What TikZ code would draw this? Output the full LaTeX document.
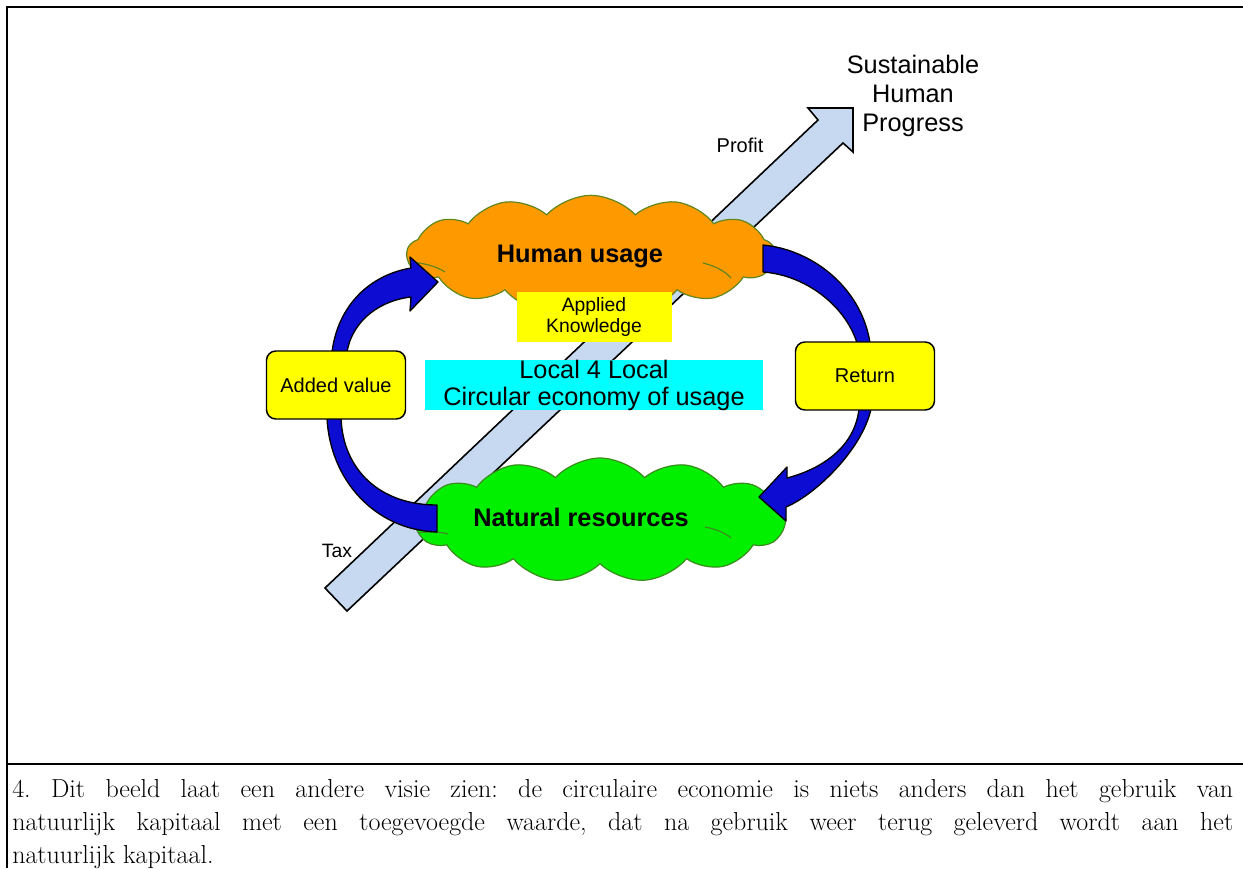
\documentclass[tikz,border=0pt]{standalone}
\usepackage{fontspec}
\newfontfamily\arialf{Liberation Sans}
\usetikzlibrary{shapes.symbols}
\definecolor{orng}{RGB}{255,153,0}
\definecolor{grn}{RGB}{0,240,0}
\definecolor{orngedge}{RGB}{95,135,30}
\definecolor{grnedge}{RGB}{60,140,30}
\definecolor{ltblue}{RGB}{198,217,240}
\definecolor{dblue}{RGB}{12,12,210}
\definecolor{yel}{RGB}{255,255,0}
\definecolor{cyn}{RGB}{0,255,255}
\frenchspacing
\begin{document}
\begin{tikzpicture}[x=0.75pt,y=-0.75pt,
  framethick/.style={line width=1.6pt},
  framethin/.style={line width=0.8pt},
  cloudbox/.style={cloud, cloud puffs=13, cloud puff arc=95, aspect=3, cloud ignores aspect, inner sep=0pt, line width=0.9pt},
  crease/.style={line width=0.9pt},
  bluearrow/.style={fill=dblue, draw=black, line width=1pt, line join=round},
  bigarrow/.style={fill=ltblue, draw=black, line width=1.2pt, line join=miter},
  plainbox/.style={inner sep=0pt, align=center},
  roundbox/.style={fill=yel, draw=black, line width=1.1pt, rounded corners=7pt, inner sep=0pt, align=center, minimum width=104.25pt, minimum height=51pt, font=\arialf\fontsize{15}{18}\selectfont},
  sanslab/.style={inner sep=0pt, align=center},
  capline/.style={anchor=base west, inner sep=0pt, font=\fontsize{19.5}{23}\selectfont\frenchspacing}
]
\useasboundingbox (0,0) rectangle (1243,868);

% frame
\coordinate (tl) at (7,7);
\coordinate (ta) at (113,7);
\coordinate (tb) at (1140,7);
\coordinate (tr) at (1243,7);
\coordinate (ml) at (7,764);
\coordinate (ma) at (113,764);
\coordinate (mb) at (1140,764);
\coordinate (mr) at (1243,764);
\coordinate (bl) at (7,868);
\draw[framethick] (tl) -- (ta);
\draw[framethin] (ta) -- (tb);
\draw[framethick] (tb) -- (tr);
\draw[framethick] (ml) -- (ma);
\draw[framethin] (ma) -- (mb);
\draw[framethick] (mb) -- (mr);
\draw[line width=1.5pt] ([yshift=0.75pt]tl) -- (bl);

% big light-blue arrow
\draw[bigarrow] (325,588) -- (818,120) -- (808,108) -- (853,108) -- (853,152) -- (843,143) -- (347,611) -- cycle;

% clouds
\node[cloudbox, draw=orngedge, fill=orng, minimum width=276pt, minimum height=88pt] (hu) at (591,254) {};
\node[cloudbox, draw=grnedge, fill=grn, minimum width=278pt, minimum height=93pt] (nr) at (600,520) {};

% creases orange
\draw[crease, orngedge] (410,262) .. controls (423,263) and (436,266) .. (445,272);
\draw[crease, orngedge] (703,263) .. controls (715,266) and (725,271) .. (731,278);
% creases green
\draw[crease, grnedge] (418,533) .. controls (430,531) and (440,532) .. (448,534);
\draw[crease, grnedge] (705,527) .. controls (716,529) and (725,533) .. (731,538);

% labels in clouds
\node[sanslab, font=\arialf\bfseries\fontsize{19}{22}\selectfont] (hut) at (580,256) {Human usage};
\node[sanslab, font=\arialf\bfseries\fontsize{19}{22}\selectfont] (nrt) at (581,517) {Natural resources};

% boxes
\node[plainbox, fill=yel, minimum width=116.25pt, minimum height=37.5pt, font=\arialf\fontsize{14.5}{15.75}\selectfont] (ak) at (594,317) {Applied\\Knowledge};
\node[plainbox, fill=cyn, minimum width=253.5pt, minimum height=37.5pt, font=\arialf\fontsize{19}{20.25}\selectfont] (loc) at (594,385) {Local 4 Local\\Circular economy of usage};

% blue curved arrows
\draw[bluearrow] (332,352) .. controls (338,305) and (370,275) .. (411,268) -- (410,257) -- (438,282) -- (410,311) -- (411,297) .. controls (383,300) and (353,318) .. (347,352) -- cycle;
\draw[bluearrow] (327,418) .. controls (330,480) and (375,530) .. (437,532) -- (437,505) .. controls (380,505) and (343,470) .. (341,418) -- cycle;
\draw[bluearrow] (763,245) .. controls (815,250) and (862,290) .. (870,343) -- (857,343) .. controls (845,305) and (805,275) .. (763,272) -- cycle;
\draw[bluearrow] (871,409) .. controls (862,450) and (815,495) .. (786,507) -- (786,521) -- (759,497) -- (787,467) -- (787,478) .. controls (825,468) and (855,445) .. (859,409) -- cycle;

% rounded boxes
\node[roundbox] (av) at (336,385) {Added value};
\node[roundbox] (ret) at (865,376) {Return};

% free labels
\node[sanslab, font=\arialf\fontsize{15}{18}\selectfont] (profit) at (740,145) {Profit};
\node[sanslab, font=\arialf\fontsize{14.5}{18}\selectfont] (tax) at (337,551) {Tax};
\node[sanslab, font=\arialf\fontsize{19}{21.75}\selectfont] (shp) at (913,96) {Sustainable\\Human\\Progress};

% caption
\node[capline] (c1) at (12,797) {\makebox[915.75pt][s]{4. Dit beeld laat een andere visie zien: de circulaire economie is niets anders dan het gebruik van}};
\node[capline] (c2) at (12,830) {\makebox[915.75pt][s]{natuurlijk kapitaal met een toegevoegde waarde, dat na gebruik weer terug geleverd wordt aan het}};
\node[capline] (c3) at (12,863) {natuurlijk kapitaal.};
\end{tikzpicture}
\end{document}
